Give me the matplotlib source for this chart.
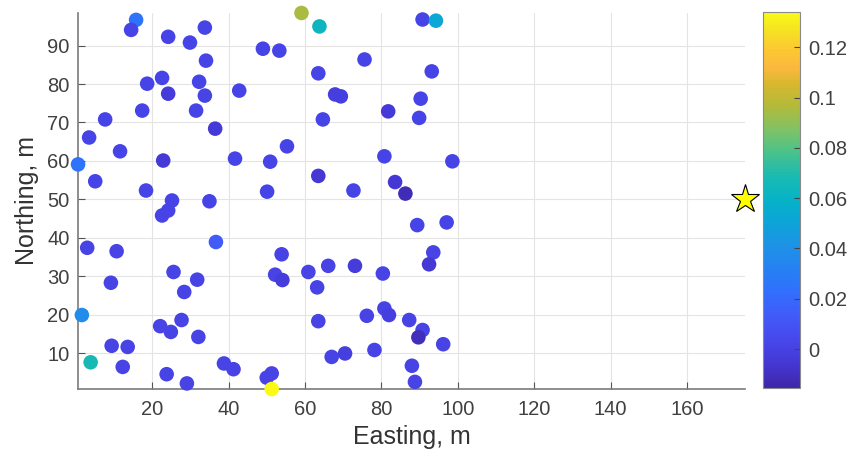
import matplotlib
matplotlib.use("Agg")
import matplotlib.pyplot as plt
from matplotlib.colors import LinearSegmentedColormap, Normalize
import numpy as np

plt.rcParams['font.family'] = ['Liberation Sans', 'DejaVu Sans']

east = [15.8, 14.5, 24.2, 29.9, 33.8, 34.1, 18.7, 22.6, 24.2, 32.3,
        33.8, 17.4, 31.5, 7.7, 3.5, 36.5, 11.6, 0.6, 22.9, 5.1,
        18.4, 25.2, 24.2, 22.6, 35.0, 49.0, 53.3, 42.8, 41.7, 50.9,
        55.3, 50.1, 59.1, 63.8, 90.8, 94.3, 75.6, 63.5, 93.2, 67.9,
        69.4, 90.3, 81.8, 89.9, 64.7, 80.8, 98.6, 63.5, 72.7, 83.6,
        86.3, 89.4, 97.1, 3.0, 10.7, 36.7, 9.2, 25.6, 31.8, 28.4,
        1.6, 22.1, 24.9, 27.7, 32.1, 9.4, 13.6, 12.3, 3.9, 23.8,
        29.1, 38.8, 41.3, 50.0, 51.3, 53.9, 52.2, 54.1, 60.9, 66.1,
        73.1, 80.4, 63.2, 63.5, 76.2, 80.8, 82.0, 87.3, 90.8, 89.7,
        96.2, 67.0, 70.5, 78.2, 88.0, 88.8, 93.6, 92.5, 51.3]
north = [96.7, 94.1, 92.3, 90.8, 94.7, 86.1, 80.1, 81.6, 77.5, 80.6,
         77.0, 73.1, 73.1, 70.8, 66.1, 68.4, 62.5, 59.1, 60.1, 54.7,
         52.3, 49.7, 47.1, 45.8, 49.5, 89.2, 88.7, 78.3, 60.6, 59.8,
         63.8, 52.0, 98.5, 95.0, 96.8, 96.5, 86.4, 82.8, 83.3, 77.3,
         76.8, 76.2, 72.9, 71.2, 70.8, 61.2, 59.9, 56.1, 52.3, 54.5,
         51.5, 43.3, 44.0, 37.4, 36.5, 38.9, 28.3, 31.1, 29.1, 25.9,
         19.9, 17.0, 15.5, 18.6, 14.2, 11.9, 11.6, 6.4, 7.6, 4.5,
         2.1, 7.3, 5.8, 3.6, 4.7, 35.7, 30.4, 29.0, 31.1, 32.7,
         32.7, 30.7, 27.1, 18.3, 19.7, 21.6, 19.9, 18.6, 16.0, 14.1,
         12.3, 9.0, 9.9, 10.8, 6.7, 2.5, 36.2, 33.1, 0.65]
value = [0.025, 0.002, 0.002, 0.002, 0.002, 0.002, 0.002, 0.002, -0.003, 0.002,
         0.001, 0.002, 0.002, 0.002, 0.002, -0.004, 0.002, 0.025, -0.004, 0.002,
         0.002, 0.002, 0.001, 0.002, 0.002, 0.002, 0.002, 0.002, 0.002, 0.002,
         0.002, 0.002, 0.095, 0.063, 0.002, 0.052, 0.002, 0.002, 0.002, -0.002,
         -0.001, 0.002, -0.004, 0.002, 0.002, 0.002, 0.002, -0.005, 0.002, -0.006,
         -0.012, 0.002, 0.002, 0.001, 0.001, 0.013, 0.001, 0.001, 0.001, 0.001,
         0.038, 0.001, 0.001, 0.001, 0.001, 0.001, 0.001, 0.001, 0.068, 0.001,
         0.001, 0.001, 0.001, 0.001, 0.001, 0.001, 0.001, -0.003, 0.001, 0.001,
         -0.003, 0.001, 0.001, 0.001, 0.001, 0.001, -0.001, 0.001, 0.001, -0.011,
         0.001, 0.001, -0.001, 0.001, 0.001, 0.001, 0.001, -0.005, 0.134]

# source location
star_east = [175.2]
star_north = [50.0]

cbar_ticks = [0, 0.02, 0.04, 0.06, 0.08, 0.1, 0.12]
cbar_labels = ["0", "0.02", "0.04", "0.06", "0.08", "0.1", "0.12"]

# rough MATLAB parula
parula = LinearSegmentedColormap.from_list("parula", [
    (0.000, (0.2422, 0.1504, 0.6603)),
    (0.0625, (0.2691, 0.2155, 0.8283)),
    (0.125, (0.2803, 0.2782, 0.9221)),
    (0.1875, (0.2586, 0.3508, 0.9717)),
    (0.25, (0.1959, 0.4279, 0.9918)),
    (0.3125, (0.1493, 0.5018, 0.9568)),
    (0.375, (0.1190, 0.5684, 0.9025)),
    (0.4375, (0.0500, 0.6400, 0.8500)),
    (0.5, (0.0200, 0.7000, 0.7800)),
    (0.5625, (0.1000, 0.7300, 0.7000)),
    (0.625, (0.2800, 0.7600, 0.5500)),
    (0.6875, (0.5000, 0.7600, 0.4000)),
    (0.75, (0.7000, 0.7300, 0.2300)),
    (0.8125, (0.8500, 0.7200, 0.1800)),
    (0.85, (0.9800, 0.7200, 0.2400)),
    (0.9, (0.9900, 0.7800, 0.2000)),
    (0.95, (0.9600, 0.8800, 0.1400)),
    (1.0, (0.9800, 0.9800, 0.0800)),
])

fig = plt.figure(figsize=(8.51, 4.57), dpi=100)
ax = fig.add_axes([0.0917, 0.1488, 0.7837, 0.8228])

norm = Normalize(vmin=-0.0155, vmax=0.134)
sc = ax.scatter(east, north, c=value, cmap=parula, norm=norm, s=110,
                linewidths=0, clip_on=False, zorder=3)
ax.plot(star_east, star_north, marker="*", markersize=21, color="yellow",
        markeredgecolor="black", markeredgewidth=0.8, linestyle="none",
        clip_on=False, zorder=4)

ax.set_xlim(0.6, 175.2)
ax.set_ylim(0.65, 98.5)
ax.set_xticks(np.arange(20, 161, 20))
ax.set_yticks(np.arange(10, 91, 10))

ax.grid(True, color="#e4e4e4", linewidth=0.8)
ax.set_axisbelow(True)
for side in ["top", "right"]:
    ax.spines[side].set_visible(False)
for side in ["left", "bottom"]:
    ax.spines[side].set_color("#7a7a7a")
    ax.spines[side].set_linewidth(1.2)

ax.tick_params(direction="in", length=5, width=0.8, color="#555555",
               labelcolor="#404040", labelsize=14.5)
ax.tick_params(axis="x", pad=8)
ax.tick_params(axis="y", pad=6)

ax.set_xlabel("Easting, m", fontsize=18, color="#333333", labelpad=4)
ax.set_ylabel("Northing, m", fontsize=18, color="#333333", labelpad=6)

cax = fig.add_axes([0.8966, 0.151, 0.0435, 0.8227])
cb = fig.colorbar(sc, cax=cax, ticks=cbar_ticks)
cb.ax.set_yticklabels(cbar_labels)
cb.outline.set_edgecolor("#8a8a8a")
cb.outline.set_linewidth(0.8)
cb.ax.tick_params(direction="in", length=4, width=0.8, color="#444444",
                  labelcolor="#404040", labelsize=14.5, pad=6)

fig.savefig("out.png", dpi=100)
